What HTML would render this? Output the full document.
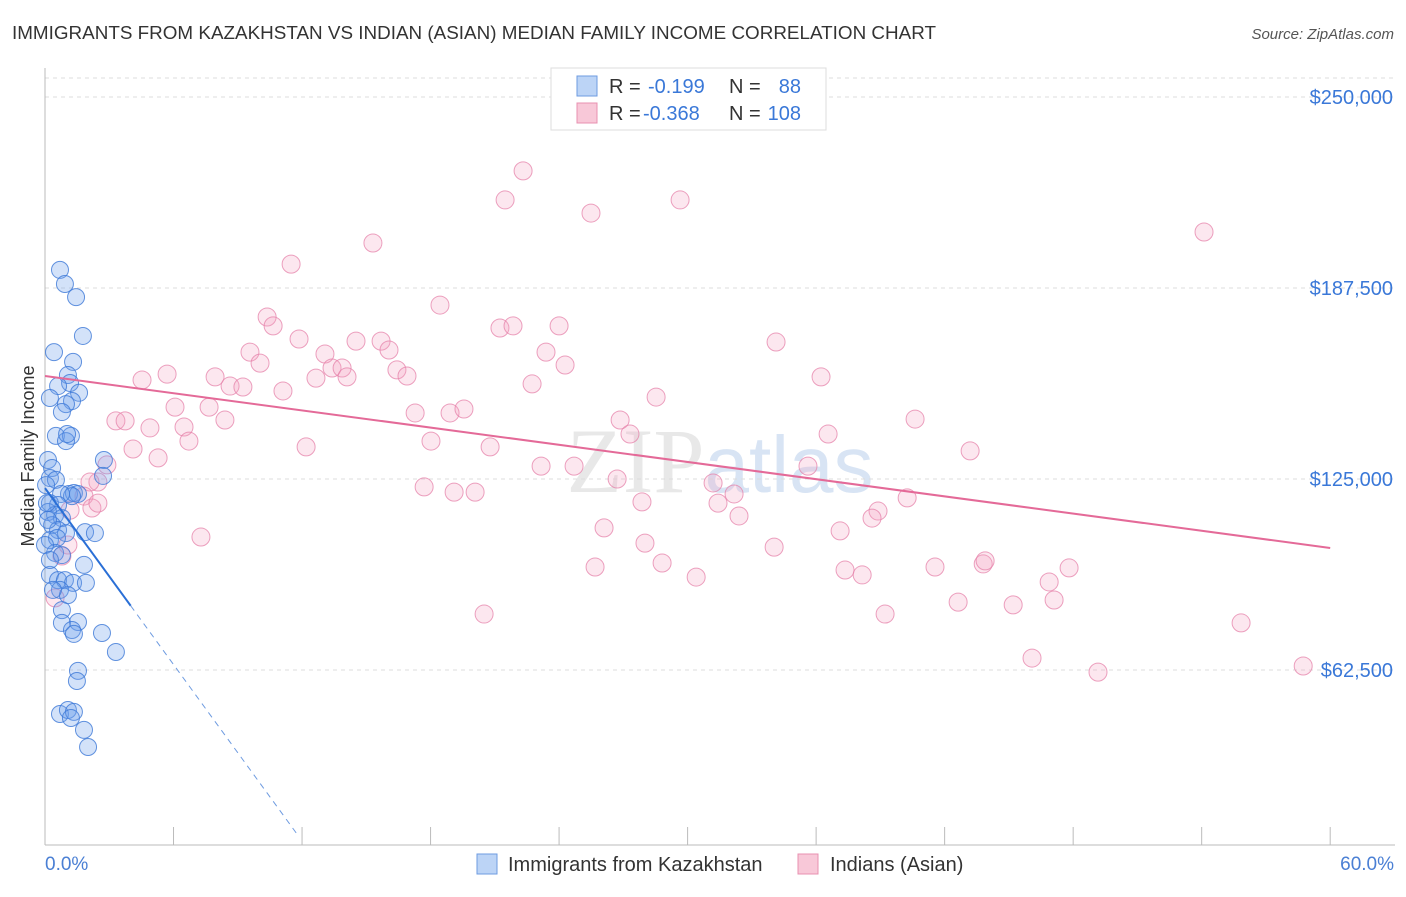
<!DOCTYPE html>
<html><head><meta charset="utf-8"><style>
body{margin:0;background:#fff;width:1406px;height:892px;overflow:hidden;font-family:"Liberation Sans",sans-serif}
</style></head><body>
<svg id="chart" width="1406" height="892" xmlns="http://www.w3.org/2000/svg" font-family="Liberation Sans, sans-serif">
<text x="12" y="39" font-size="18" fill="#333" textLength="924" lengthAdjust="spacingAndGlyphs">IMMIGRANTS FROM KAZAKHSTAN VS INDIAN (ASIAN) MEDIAN FAMILY INCOME CORRELATION CHART</text>
<text x="1394" y="39" font-size="15" fill="#555" font-style="italic" text-anchor="end">Source: ZipAtlas.com</text>
<text x="720" y="492" font-size="92" fill="#e8e8e8" text-anchor="middle" font-family="Liberation Serif, serif">ZIP<tspan fill="#d8e4f4" font-family="Liberation Sans, sans-serif" font-size="80">atlas</tspan></text>
<g id="grid"></g>
<line x1="45" y1="68" x2="45" y2="845" stroke="#bbb"/>
<line x1="45" y1="845" x2="1395" y2="845" stroke="#bbb"/>
<text transform="translate(34,456) rotate(-90)" font-size="18" fill="#333" text-anchor="middle">Median Family Income</text>
<text x="45" y="870" font-size="19" fill="#4a7fd4">0.0%</text>
<text x="1394" y="870" font-size="19" fill="#4a7fd4" text-anchor="end">60.0%</text>
<g id="points-pink"></g>
<g id="points-blue"></g>
<g id="trends"></g>
<g>
<rect x="551" y="68" width="275" height="62" fill="#fff" stroke="#ddd"/>
<rect x="577" y="76" width="20" height="20" fill="#bcd4f6" stroke="#6e9be0"/>
<rect x="577" y="103" width="20" height="20" fill="#f8c8d8" stroke="#e890b0"/>
<text x="609" y="93" font-size="20" fill="#333">R =</text>
<text x="648" y="93" font-size="20" fill="#3a78d8">-0.199</text>
<text x="729" y="93" font-size="20" fill="#333">N =</text>
<text x="801" y="93" font-size="20" fill="#3a78d8" text-anchor="end">88</text>
<text x="609" y="120" font-size="20" fill="#333">R =</text>
<text x="643" y="120" font-size="20" fill="#3a78d8">-0.368</text>
<text x="729" y="120" font-size="20" fill="#333">N =</text>
<text x="801" y="120" font-size="20" fill="#3a78d8" text-anchor="end">108</text>
</g>
<g>
<rect x="477" y="854" width="20" height="20" fill="#bcd4f6" stroke="#6e9be0"/>
<text x="508" y="871" font-size="20" fill="#333">Immigrants from Kazakhstan</text>
<rect x="798" y="854" width="20" height="20" fill="#f8c8d8" stroke="#e890b0"/>
<text x="830" y="871" font-size="20" fill="#333">Indians (Asian)</text>
</g>
</svg>
<script>
const yTicks=[250,187.5,125,62.5];
const yTickLabels=["$250,000","$187,500","$125,000","$62,500"];
const xTicks=[0,6,12,18,24,30,36,42,48,54,60];
const bluePct=[0.70,0.93,1.45,1.77,0.42,1.31,1.07,1.17,0.61,1.59,0.23,1.26,0.98,0.79,0.51,1.21,0.98,1.03,2.75,2.71,0.14,0.33,0.23,0.51,0.05,1.12,1.35,1.54,1.26,0.75,0.23,0.61,0.14,0.47,0.79,0.33,0.61,1.87,2.33,0.98,0.23,0.56,0.47,0.79,1.82,0.23,0.61,0.93,1.31,1.91,0.70,1.07,0.79,1.54,0.79,1.26,1.35,2.66,3.31,1.54,1.49,0.70,1.07,1.35,1.21,1.82,2.01,0.14,0,0.23,0.37,0.09];
const blueInc=[193.4,188.8,184.5,171.8,166.5,163.3,159.0,156.4,155.4,153.2,151.5,150.5,149.5,146.9,139.1,139.1,137.4,139.7,131.2,126.0,131.2,128.6,125.3,124.7,123.0,120.1,120.4,120.1,119.4,120.1,117.1,116.5,114.2,113.2,112.2,109.9,108.3,107.6,107.3,107.3,105.0,105.7,100.8,100.1,96.9,93.6,91.9,91.9,91.0,91.0,88.7,87.0,82.1,78.2,77.9,75.6,74.3,74.6,68.4,62.2,58.9,48.1,49.4,48.8,46.8,42.9,37.3,111.6,103.4,98.5,88.7,117.1];
const pinkPct=[22.32,21.48,25.49,29.65,54.11,15.31,11.49,18.44,10.37,10.65,21.24,21.85,24.0,11.86,34.13,9.57,13.07,14.52,15.69,16.06,23.39,24.28,4.53,5.70,7.94,10.04,12.65,13.40,13.87,14.10,16.43,16.90,22.74,36.23,8.64,9.24,11.11,28.53,6.07,7.66,17.28,18.91,19.56,26.85,40.62,3.31,3.74,8.40,6.49,4.90,6.72,18.02,12.19,4.11,20.78,27.31,36.56,43.19,5.28,2.89,23.16,24.70,35.62,17.70,19.10,20.08,26.71,31.19,32.17,27.87,31.42,2.47,2.10,1.82,2.19,2.47,32.40,38.89,38.61,40.25,26.10,37.12,7.28,28.01,34.04,25.68,28.81,30.40,37.35,38.15,41.55,43.80,43.89,47.81,46.88,47.11,42.63,45.20,39.22,20.50,55.84,46.08,49.16,58.74,1.07,0.79,0.47,1.17];
const pinkInc=[225.8,216.3,212.0,216.3,205.8,202.2,195.3,181.9,178.0,175.1,174.4,175.1,175.1,170.8,169.8,166.5,165.9,170.1,170.1,167.2,166.5,162.3,157.4,159.3,158.4,162.9,158.0,161.3,161.3,158.4,160.7,158.7,156.1,158.4,155.4,155.1,153.8,151.8,148.5,148.5,146.6,146.6,147.9,144.3,144.6,144.0,144.0,144.3,142.0,141.7,137.4,137.4,135.5,134.8,135.5,139.7,139.7,134.2,131.9,129.6,129.2,129.2,129.2,122.4,120.7,120.7,125.0,123.7,120.1,117.5,117.1,124.0,124.0,119.4,115.5,117.1,112.9,114.5,112.2,118.8,109.0,108.0,106.0,104.0,102.7,96.2,97.5,92.9,95.2,93.6,96.2,97.2,98.2,95.9,91.3,85.4,84.7,83.8,80.8,80.8,77.9,66.4,61.8,63.8,103.4,99.8,86.1,114.8];
const blueTrend=[122.0,-9.62];
const pinkTrend=[158.7,-0.938];
const blueSolidEnd=4.0, blueDashEnd=11.8;

const NS="http://www.w3.org/2000/svg";
function xS(p){return 45+p*21.42;}
function yS(v){return 861-v/0.3272;}
function mk(tag,attrs,parent){const e=document.createElementNS(NS,tag);for(const k in attrs)e.setAttribute(k,attrs[k]);parent.appendChild(e);return e;}
const grid=document.getElementById('grid');
let gl=mk('line',{x1:45,x2:1395,y1:78,y2:78,stroke:'#ddd','stroke-dasharray':'4,4'},grid);


yTicks.forEach((v,i)=>{
  const l=mk('line',{x1:45,x2:1395,y1:yS(v),y2:yS(v),stroke:'#ddd','stroke-dasharray':'4,4'},grid);
  
  
  const t=mk('text',{x:1393,y:yS(v)+7,'font-size':20,fill:'#3a78d8','text-anchor':'end'},grid);
  t.textContent=yTickLabels[i];
  
  
});
xTicks.forEach(p=>{
  const l=mk('line',{x1:xS(p),x2:xS(p),y1:827,y2:845,stroke:'#bbb'},grid);
  
  
});
const pg=document.getElementById('points-pink');
pinkPct.forEach((p,i)=>{
  const c=mk('circle',{cx:xS(p),cy:yS(pinkInc[i]),r:9,fill:'rgba(244,160,190,0.25)',stroke:'rgba(230,130,170,0.75)','stroke-width':1},pg);
  
  
});
const bg=document.getElementById('points-blue');
bluePct.forEach((p,i)=>{
  const c=mk('circle',{cx:xS(p),cy:yS(blueInc[i]),r:8.5,fill:'rgba(110,160,235,0.3)',stroke:'rgba(60,120,215,0.8)','stroke-width':1},bg);
  
  
});
const tg=document.getElementById('trends');
const bl=mk('line',{x1:xS(0),y1:yS(blueTrend[0]),x2:xS(blueSolidEnd),y2:yS(blueTrend[0]+blueTrend[1]*blueSolidEnd),stroke:'#2a6fd6','stroke-width':2},tg);


const bd=mk('line',{x1:xS(blueSolidEnd),y1:yS(blueTrend[0]+blueTrend[1]*blueSolidEnd),x2:xS(blueDashEnd),y2:yS(blueTrend[0]+blueTrend[1]*blueDashEnd),stroke:'#6e9be0','stroke-width':1,'stroke-dasharray':'6,5'},tg);


const pl=mk('line',{x1:xS(0),y1:yS(pinkTrend[0]),x2:xS(60),y2:yS(pinkTrend[0]+pinkTrend[1]*60),stroke:'#e46a98','stroke-width':2},tg);


</script>
</body></html>
